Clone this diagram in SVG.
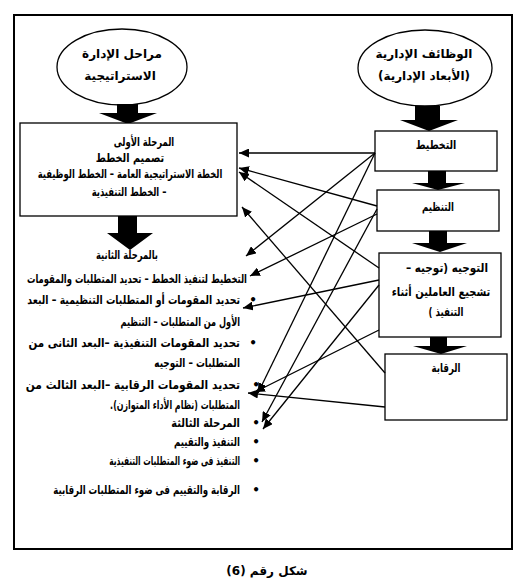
<svg xmlns="http://www.w3.org/2000/svg" width="532" height="588" viewBox="0 0 532 588">
<style>
.t{font-family:"DejaVu Sans","Noto Sans",sans-serif;font-weight:bold;font-size:12px;fill:#000;direction:rtl;text-anchor:middle}
.r{text-anchor:start}
.b{fill:#fff;stroke:#000;stroke-width:1.3}
.ba{fill:#000}
.c{stroke:#000;stroke-width:1.3;fill:none;marker-end:url(#ah)}
</style>
<defs>
<marker id="ah" markerUnits="userSpaceOnUse" markerWidth="11" markerHeight="9" refX="10" refY="4.5" orient="auto">
<path d="M0,0 L10,4.5 L0,9 z" fill="#000"/>
</marker>
</defs>
<rect x="0" y="0" width="532" height="588" fill="#fff"/>
<rect id="frame" x="14" y="15" width="498" height="534" fill="none" stroke="#000" stroke-width="2"/>

<g id="ellipse-left">
<ellipse cx="122" cy="67" rx="65" ry="38" class="b" stroke-width="1.6"/>
<text class="t" x="122" y="58" font-size="12.5">مراحل الإدارة</text>
<text class="t" x="120" y="80" font-size="12.5">الاستراتيجية</text>
</g>
<g id="ellipse-right">
<ellipse cx="425" cy="68" rx="67" ry="38" class="b" stroke-width="1.6"/>
<text class="t" x="424" y="58" font-size="12.5">الوظائف الإدارية</text>
<text class="t" x="424" y="80" font-size="12.5">(الأبعاد الإدارية)</text>
</g>

<g id="block-arrows">
<polygon class="ba" points="117,104 138,104 138,113 157,113 128,124 99,113 117,113"/>
<polygon class="ba" points="118,216 137,216 137,233 153,233 130,250 107,233 118,233"/>
<polygon class="ba" points="415,106 440,106 440,120 458,120 429,131 400,120 415,120"/>
<polygon class="ba" points="428,171 446,171 446,183 465,183 438,190 412,183 428,183"/>
<polygon class="ba" points="429,231 447,231 447,243 467,243 440,252 412,243 429,243"/>
<polygon class="ba" points="430,337 447,337 447,346 467,346 441,354 413,346 430,346"/>
</g>

<g id="stage1">
<rect x="20" y="123" width="217" height="93" class="b"/>
<text class="t" transform="translate(144,146) scale(0.7,1)">المرحلة الأولى</text>
<text class="t" transform="translate(130,162) scale(0.81,1)">تصميم الخطط</text>
<text class="t" transform="translate(130,178) scale(0.70,1)">الخطة الاستراتيجية العامة – الخطط الوظيفية</text>
<text class="t" transform="translate(129,196) scale(0.70,1)">– الخطط التنفيذية</text>
</g>

<g id="stages-2-3">
<text class="t" transform="translate(127,259) scale(0.70,1)">بالمرحلة الثانية</text>
<text class="t r" transform="translate(247,283) scale(0.70,1)">التخطيط لتنفيذ الخطط – تحديد المتطلبات والمقومات</text>
<text class="t" x="253" y="304">•</text>
<text class="t r" transform="translate(240,304) scale(0.78,1)">تحديد المقومات أو المتطلبات التنظيمية – البعد</text>
<text class="t r" transform="translate(240,326) scale(0.68,1)">الأول من المتطلبات – التنظيم</text>
<text class="t" x="253" y="347">•</text>
<text class="t r" transform="translate(240,347) scale(0.86,1)">تحديد المقومات التنفيذية –البعد الثانى من</text>
<text class="t r" transform="translate(240,367) scale(0.74,1)">المتطلبات – التوجيه</text>
<text class="t" x="256" y="389">•</text>
<text class="t r" transform="translate(240,389) scale(0.89,1)">تحديد المقومات الرقابية –البعد الثالث من</text>
<text class="t r" transform="translate(240,409) scale(0.66,1)">المتطلبات (نظام الأداء المتوازن).</text>
<text class="t" x="256" y="427">•</text>
<text class="t r" transform="translate(240,427) scale(0.82,1)">المرحلة الثالثة</text>
<text class="t" x="256" y="446">•</text>
<text class="t r" transform="translate(240,446) scale(0.72,1)">التنفيذ والتقييم</text>
<text class="t" x="256" y="465">•</text>
<text class="t r" transform="translate(240,465) scale(0.62,1)">التنفيذ فى ضوء المتطلبات التنفيذية</text>
<text class="t" x="256" y="494">•</text>
<text class="t r" transform="translate(240,494) scale(0.72,1)">الرقابة والتقييم فى ضوء المتطلبات الرقابية</text>
</g>

<g id="planning">
<rect x="375" y="131" width="122" height="40" class="b"/>
<text class="t" transform="translate(436,149) scale(0.79,1)">التخطيط</text>
</g>
<g id="organizing">
<rect x="377" y="190" width="122" height="41" class="b"/>
<text class="t" transform="translate(438,211) scale(0.72,1)">التنظيم</text>
</g>
<g id="directing">
<rect x="379" y="253" width="122" height="84" class="b"/>
<text class="t" transform="translate(447,272) scale(0.87,1)">التوجيه (توجيه –</text>
<text class="t" transform="translate(441,296) scale(0.83,1)">تشجيع العاملين أثناء</text>
<text class="t" transform="translate(446,316) scale(0.72,1)">التنفيذ )</text>
</g>
<g id="controlling">
<rect x="385" y="354" width="122" height="66" class="b"/>
<text class="t" transform="translate(446,372) scale(0.72,1)">الرقابة</text>
</g>

<g id="connectors">
<line class="c" x1="375" y1="153" x2="239" y2="153"/>
<line class="c" x1="377" y1="206" x2="239" y2="168"/>
<line class="c" x1="379" y1="268" x2="239" y2="172"/>
<line class="c" x1="385" y1="373" x2="242" y2="207"/>
<line class="c" x1="375" y1="153" x2="246" y2="256"/>
<line class="c" x1="377" y1="214" x2="250" y2="276"/>
<line class="c" x1="379" y1="280" x2="243" y2="308"/>
<line class="c" x1="375" y1="153" x2="258" y2="393"/>
<line class="c" x1="379" y1="330" x2="255" y2="392"/>
<line class="c" x1="385" y1="407" x2="248" y2="393"/>
<line class="c" x1="377" y1="209" x2="262" y2="422"/>
<line class="c" x1="379" y1="285" x2="263" y2="429"/>
</g>

<text class="t" x="267" y="575" font-size="14.5">شكل رقم (6)</text>
</svg>
